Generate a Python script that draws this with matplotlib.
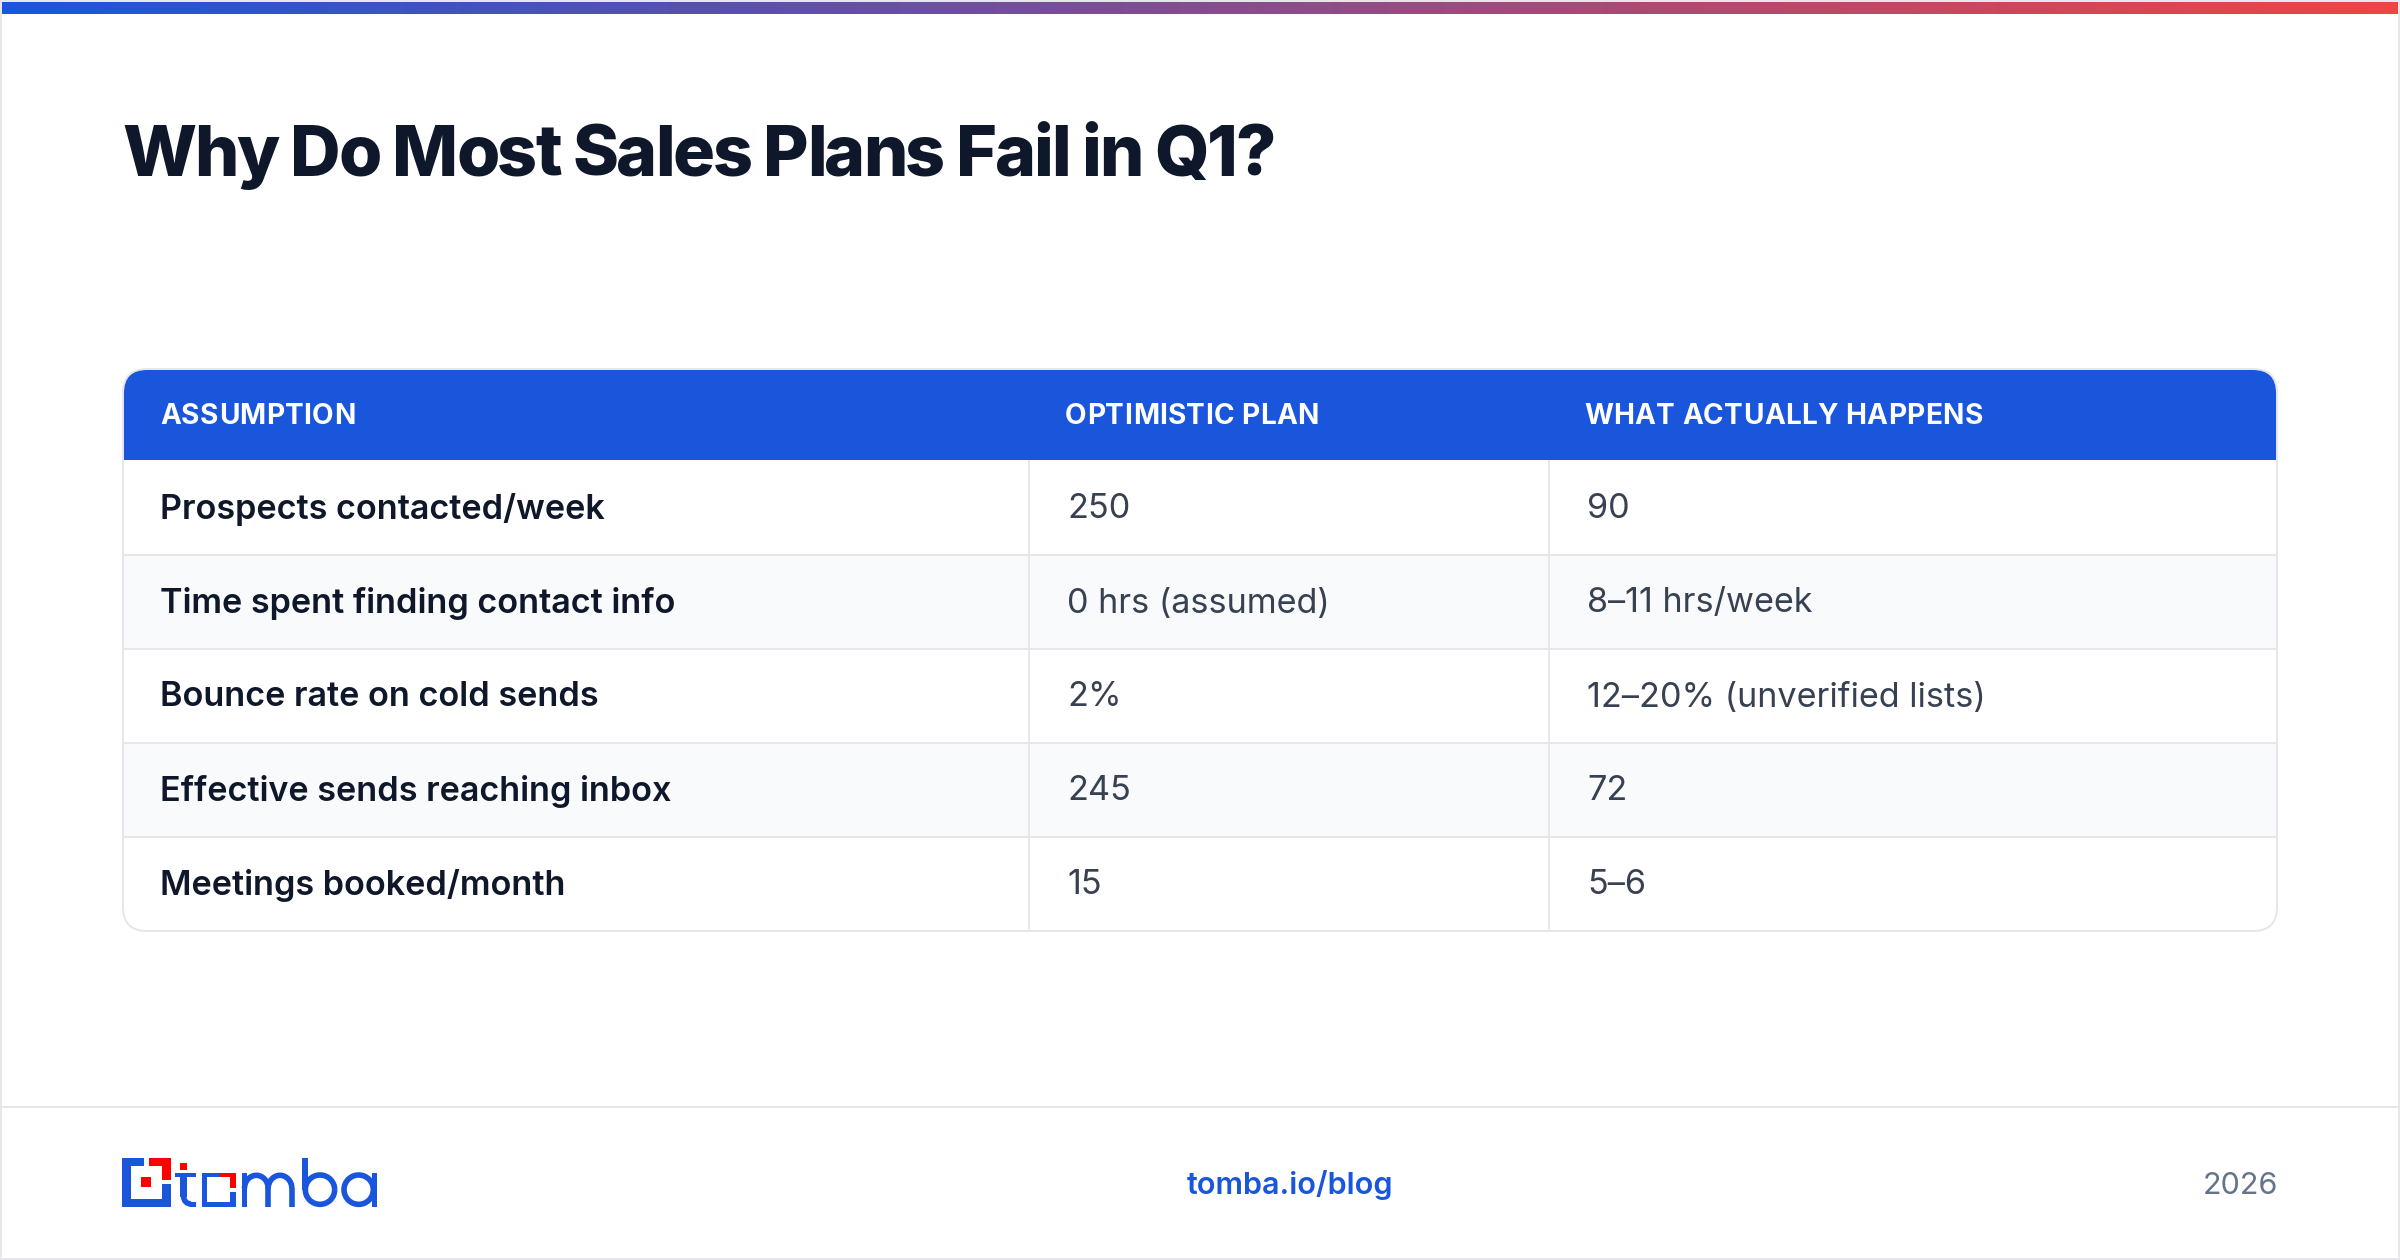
import numpy as np
import matplotlib
matplotlib.use("Agg")
import matplotlib.pyplot as plt
from matplotlib.patches import FancyBboxPatch, Rectangle, Arc
from matplotlib.colors import LinearSegmentedColormap
from matplotlib.text import Text

title = "Why Do Most Sales Plans Fail in Q1?"
headers = ["ASSUMPTION", "OPTIMISTIC PLAN", "WHAT ACTUALLY HAPPENS"]
assumptions = ["Prospects contacted/week", "Time spent finding contact info",
               "Bounce rate on cold sends", "Effective sends reaching inbox", "Meetings booked/month"]
plan = ["250", "0 hrs (assumed)", "2%", "245", "15"]
actual = ["90", "8–11 hrs/week", "12–20% (unverified lists)", "72", "5–6"]

BLUE = "#1a56db"; RED = "#ef4444"; BORDER = "#e5e7eb"; DARK = "#0f172a"; BODY = "#374151"
plt.rcParams["font.family"] = ["Inter", "DejaVu Sans"]
PX = 0.72
W, H = 2400, 1260


class SpacedText(Text):
    """One text artist drawn with CSS-like letter spacing (in pixels)."""
    def __init__(self, *args, spacing=0.0, **kwargs):
        super().__init__(*args, **kwargs)
        self.spacing = spacing

    def draw(self, renderer):
        s = self.get_text()
        fp = self.get_fontproperties()
        x0, y0 = self.get_transform().transform((self.get_position()))
        y0 = renderer.height - y0
        gc = renderer.new_gc()
        gc.set_foreground(self.get_color())
        gc.set_antialiased(True)
        for i, ch in enumerate(s):
            w = renderer.get_text_width_height_descent(s[:i], fp, False)[0] if i else 0
            if ch != " ":
                renderer.draw_text(gc, x0 + w + i*self.spacing, y0, ch, fp, 0, False)
        gc.restore()


fig = plt.figure(figsize=(24, 12.6), dpi=100, facecolor="white")
ax = fig.add_axes([0, 0, 1, 1]); ax.set_xlim(0, W); ax.set_ylim(H, 0); ax.axis("off")


def spaced(x, y, s, spacing, **kw):
    t = SpacedText(x, y, s, spacing=spacing, va="baseline", ha="left", **kw)
    ax.add_artist(t)
    return t


# frame + gradient
ax.add_patch(Rectangle((1, 1), W-2, H-2, fc="white", ec=BORDER, lw=2*PX, zorder=0))
cmap = LinearSegmentedColormap.from_list("g", [BLUE, RED])
ax.imshow(np.linspace(0, 1, 600)[None, :], extent=(2, W-2, 14, 2), cmap=cmap, aspect="auto", zorder=1)
ax.set_xlim(0, W); ax.set_ylim(H, 0)

spaced(122, 176, title, -2.27, fontsize=70*PX, fontweight=800, color=DARK, zorder=5)

# table
L, R, T, B = 123, 2277, 369, 931
rad = 24
col_x = [L, 1029, 1549, R]
row_top = 461
head_bottom = 460
row_h = (B - row_top) / len(assumptions)
clip = FancyBboxPatch((L, T), R-L, B-T, boxstyle=f"round,pad=0,rounding_size={rad}", fc="white", ec="none",
                      transform=ax.transData, zorder=2)
ax.add_patch(clip)
for i in range(len(assumptions)):
    y0 = row_top + i*row_h
    if i % 2 == 1:
        r = Rectangle((L, y0), R-L, row_h, fc="#f9fafb", ec="none", zorder=3); ax.add_patch(r); r.set_clip_path(clip)
    if i > 0:
        ax.plot([L, R], [y0, y0], color=BORDER, lw=2*PX, zorder=4, solid_capstyle="butt")
    yc = y0 + row_h/2 + 1.5
    ax.text(160, yc, assumptions[i], fontsize=34.2*PX, fontweight="semibold", color=DARK, va="center", zorder=5)
    ax.text(1067, yc, plan[i], fontsize=34.2*PX, color=BODY, va="center", zorder=5)
    ax.text(1587, yc, actual[i], fontsize=34.2*PX, color=BODY, va="center", zorder=5)
for x in col_x[1:3]:
    ax.plot([x, x], [head_bottom, B], color=BORDER, lw=2*PX, zorder=4, solid_capstyle="butt")
ax.add_patch(FancyBboxPatch((L, T), R-L, B-T, boxstyle=f"round,pad=0,rounding_size={rad}", fc="none", ec=BORDER,
                            lw=2*PX, zorder=6))
ax.add_patch(FancyBboxPatch((L+1, T+1), R-L-2, 60, boxstyle=f"round,pad=0,rounding_size={rad-1}", fc=BLUE, ec="none",
                            snap=False, zorder=6))
ax.add_patch(Rectangle((L+1, T+31), R-L-2, head_bottom-T-31, fc=BLUE, ec="none", snap=False, zorder=6))
for x, h in zip([160, 1065, 1584], headers):
    spaced(x, 424, h, 0.35, fontsize=28*PX, fontweight="bold", color="white", zorder=7)

# footer
ax.plot([2, W-2], [1107, 1107], color=BORDER, lw=2*PX, solid_capstyle="butt", zorder=1)
ax.text(1290, 1185, "tomba.io/blog", fontsize=30.6*PX, fontweight="semibold", color=BLUE, va="center", ha="center")
ax.text(2278, 1186, "2026", fontsize=30.6*PX, color="#64748b", va="center", ha="right")


# logo, coordinates given in a local grid
def zx(v): return 90 + v/3
def zy(v): return 1120 + v/3
def box(x0, y0, x1, y1, c):
    ax.add_patch(Rectangle((zx(x0), zy(y0)), (x1-x0)/3, (y1-y0)/3, fc=c, ec="none", zorder=3))
for b in [(96,113,122,260),(96,113,162,137),(96,236,242,260),(217,192,242,260),(335,158,352,260),(335,245,437,260),
          (335,158,390,172),(420,215,437,260),(255,158,318,172),(271,158,291,232),(301,245,318,260),(455,158,472,260),(637,113,655,210),(845,158,860,260)]:
    box(*b, BLUE)
for b in [(176,113,242,137),(217,113,242,180),(153,171,184,201),(271,129,291,149),(390,158,437,172),(420,158,437,203)]:
    box(*b, "#ff0000")
lw = 5.6*PX
ax.add_patch(Arc((zx(303), zy(230)), 44/3, 44/3, theta1=90, theta2=180, color=BLUE, lw=lw, zorder=3))
for cx in [499, 570]:
    ax.add_patch(Arc((zx(cx), zy(205)), 71/3, 78/3, theta1=180, theta2=360, color=BLUE, lw=lw, zorder=3))
for cx in [535, 606]:
    ax.plot([zx(cx), zx(cx)], [zy(205), zy(260)], color=BLUE, lw=lw, solid_capstyle="butt", zorder=3)
ax.add_patch(Arc((zx(690), zy(209)), 88/3, 88/3, color=BLUE, lw=lw, zorder=3))
ax.add_patch(Arc((zx(806), zy(209)), 88/3, 88/3, color=BLUE, lw=lw, zorder=3))

fig.savefig("out.png", dpi=100, facecolor="white")
